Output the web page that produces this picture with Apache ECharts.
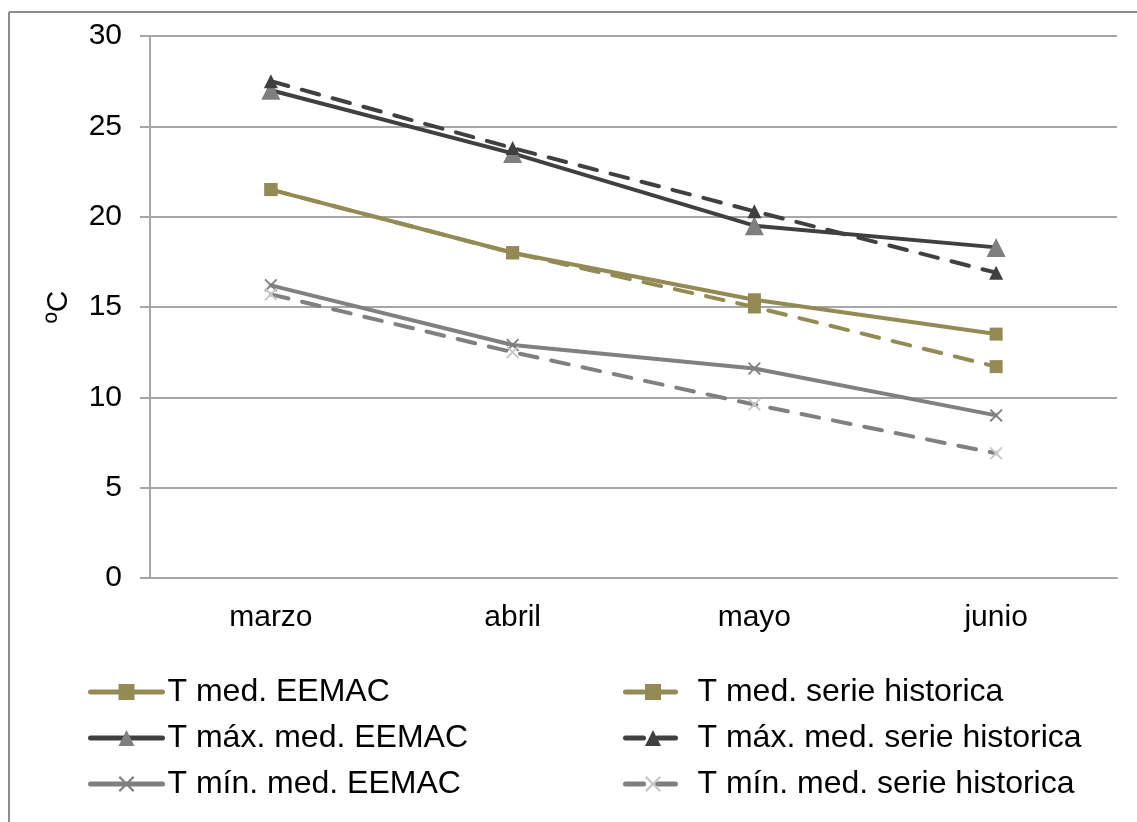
<!DOCTYPE html>
<html>
<head>
<meta charset="utf-8">
<script src="https://cdn.jsdelivr.net/npm/echarts@6/dist/echarts.min.js"></script>
<style>html,body{margin:0;padding:0;background:#fff;}#c{width:1137px;height:822px;}</style>
</head>
<body>
<div id="c"></div>
<script>
const categories = ['marzo', 'abril', 'mayo', 'junio'];
const tMedEEMAC = [21.5, 18.0, 15.4, 13.5];
const tMedHist = [21.5, 18.0, 15.0, 11.7];
const tMaxEEMAC = [27.0, 23.5, 19.5, 18.3];
const tMaxHist = [27.5, 23.8, 20.3, 16.9];
const tMinEEMAC = [16.2, 12.9, 11.6, 9.0];
const tMinHist = [15.7, 12.5, 9.6, 6.9];
const yTicks = [0, 5, 10, 15, 20, 25, 30];

const CROSS = 'path://M0,1L1,0L5,4L9,0L10,1L6,5L10,9L9,10L5,6L1,10L0,9L4,5Z';
const FONT = '"Liberation Sans", Arial, sans-serif';

function mk(name, data, lineColor, dashed, symbol, size, symColor) {
  return {
    name: name, type: 'line', data: data,
    symbol: symbol, symbolSize: size, showSymbol: true,
    lineStyle: { color: lineColor, width: 4, type: dashed ? [18, 14] : 'solid', cap: 'round' },
    itemStyle: { color: symColor, borderWidth: 0 },
    emphasis: { disabled: true },
    animation: false
  };
}

const chart = echarts.init(document.getElementById('c'));
chart.setOption({
  backgroundColor: '#fff',
  animation: false,
  graphic: [
    { type: 'line', shape: { x1: 9, y1: 12, x2: 1137, y2: 12 }, style: { stroke: '#8c8c8c', lineWidth: 2 } },
    { type: 'line', shape: { x1: 9, y1: 12, x2: 9, y2: 822 }, style: { stroke: '#8c8c8c', lineWidth: 2 } }
  ],
  grid: { left: 150, right: 20, top: 36, bottom: 244, containLabel: false },
  legend: [
    {
      left: 83, top: 669, orient: 'vertical', itemGap: 10, itemWidth: 72, itemHeight: 20,
      lineStyle: { width: 5 },
      textStyle: { fontFamily: FONT, fontSize: 32, lineHeight: 36, color: '#000' },
      data: ['T med. EEMAC', 'T máx. med. EEMAC', 'T mín. med. EEMAC']
    },
    {
      left: 618, top: 669, orient: 'vertical', itemGap: 10, itemWidth: 55, itemHeight: 20,
      lineStyle: { width: 5 },
      textStyle: { fontFamily: FONT, fontSize: 32, lineHeight: 36, color: '#000', padding: [0, 0, 0, 12] },
      data: ['T med. serie historica', 'T máx. med. serie historica', 'T mín. med. serie historica']
    }
  ],
  xAxis: {
    type: 'category', data: categories, boundaryGap: true,
    axisLine: { lineStyle: { color: '#a6a6a6', width: 2 } },
    axisTick: { show: false },
    axisLabel: { fontFamily: FONT, fontSize: 30, color: '#000', margin: 25 }
  },
  yAxis: {
    type: 'value', min: 0, max: 30, interval: 5,
    name: 'ºC', nameLocation: 'middle', nameGap: 76, nameRotate: 90,
    nameTextStyle: { fontFamily: FONT, fontSize: 30, color: '#000' },
    axisLine: { show: true, lineStyle: { color: '#a6a6a6', width: 2 } },
    axisTick: { show: true, inside: false, length: 10, lineStyle: { color: '#a6a6a6', width: 2 } },
    axisLabel: { fontFamily: FONT, fontSize: 30, color: '#000', margin: 28,
      formatter: v => yTicks.includes(v) ? String(v) : '' },
    splitLine: { lineStyle: { color: '#a6a6a6', width: 2 } }
  },
  series: [
    mk('T med. EEMAC', tMedEEMAC, '#948a54', false, 'rect', 13, '#948a54'),
    mk('T máx. med. EEMAC', tMaxEEMAC, '#404040', false, 'triangle', 19, '#7f7f7f'),
    mk('T mín. med. EEMAC', tMinEEMAC, '#808080', false, CROSS, 13, '#7f7f7f'),
    mk('T med. serie historica', tMedHist, '#948a54', true, 'rect', 13, '#948a54'),
    mk('T máx. med. serie historica', tMaxHist, '#404040', true, 'triangle', 14, '#404040'),
    mk('T mín. med. serie historica', tMinHist, '#808080', true, CROSS, 13, '#c8c8c8')
  ]
});
</script>
</body>
</html>
